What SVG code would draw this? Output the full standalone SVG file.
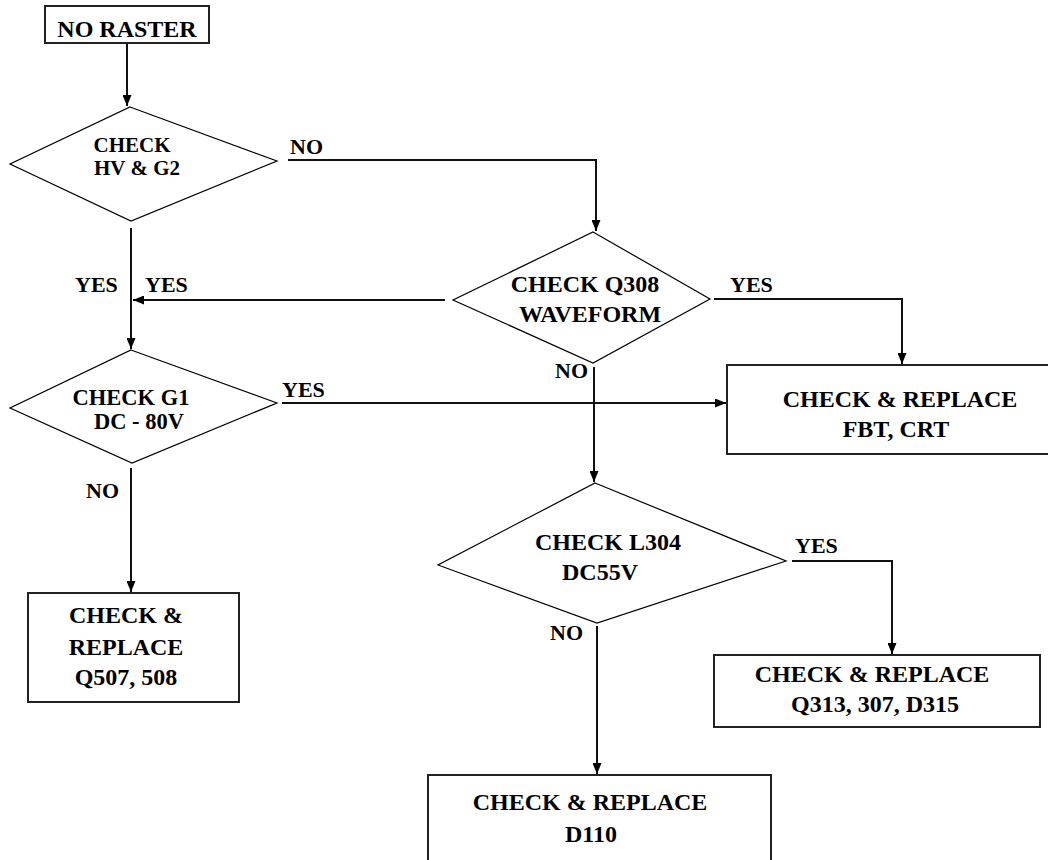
<svg xmlns="http://www.w3.org/2000/svg" width="1048" height="860" viewBox="0 0 1048 860">
<style>
  .bg{fill:#ffffff}
  .box{fill:#ffffff;stroke:#222;stroke-width:2}
  .dia{fill:#ffffff;stroke:#000;stroke-width:1.2}
  .con{fill:none;stroke:#111;stroke-width:2}
  .t24{font-size:24px;text-anchor:middle}
  .t21{font-size:21px;text-anchor:middle}
  .t22{font-size:22.5px;text-anchor:middle}
  .lbl{font-size:22px}
</style>
<defs>
  <marker id="arr" viewBox="0 0 10 10" refX="10" refY="5" markerWidth="11" markerHeight="9" markerUnits="userSpaceOnUse" orient="auto" preserveAspectRatio="none">
    <path d="M0,0 L10,5 L0,10 Z" fill="#000"/>
  </marker>
</defs>
<rect class="bg" x="0" y="0" width="1048" height="860"/>

<g id="connectors">
  <path class="con" d="M127,43 L127,106" marker-end="url(#arr)"/>
  <path class="con" d="M288,160 L596,160 L596,231" marker-end="url(#arr)"/>
  <path class="con" d="M445,300 L133,300" marker-end="url(#arr)"/>
  <path class="con" d="M131,228 L131,349" marker-end="url(#arr)"/>
  <path class="con" d="M282,403 L726,403" marker-end="url(#arr)"/>
  <path class="con" d="M714,299 L902,299 L902,364" marker-end="url(#arr)"/>
  <path class="con" d="M594,367 L594,482" marker-end="url(#arr)"/>
  <path class="con" d="M131,468 L131,592" marker-end="url(#arr)"/>
  <path class="con" d="M792,561 L892,561 L892,654" marker-end="url(#arr)"/>
  <path class="con" d="M597,626 L597,774" marker-end="url(#arr)"/>
</g>

<g style="font-family:'Times New Roman','Liberation Serif',serif;font-weight:bold" fill="#000">
<g id="labels">
  <text class="lbl" x="290" y="154">NO</text>
  <text class="lbl" x="75" y="292">YES</text>
  <text class="lbl" x="145" y="292">YES</text>
  <text class="lbl" x="730" y="292">YES</text>
  <text class="lbl" x="282" y="397">YES</text>
  <text class="lbl" x="555" y="378">NO</text>
  <text class="lbl" x="86" y="498">NO</text>
  <text class="lbl" x="795" y="553">YES</text>
  <text class="lbl" x="550" y="640">NO</text>
</g>

<g id="node-no-raster">
  <rect class="box" x="45" y="6" width="164" height="37"/>
  <text class="t24" x="127" y="37">NO RASTER</text>
</g>

<g id="node-check-hv">
  <polygon class="dia" points="130,107 277,161 131,221 10,164"/>
  <text class="t21" x="132" y="152">CHECK</text>
  <text class="t21" x="137" y="175">HV &amp; G2</text>
</g>

<g id="node-check-q308">
  <polygon class="dia" points="593,232 710,299 593,363 453,300"/>
  <text class="t24" x="585" y="292">CHECK Q308</text>
  <text class="t24" x="590" y="322">WAVEFORM</text>
</g>

<g id="node-check-g1">
  <polygon class="dia" points="131,350 277,403 132,463 10,408"/>
  <text class="t22" x="131" y="405">CHECK G1</text>
  <text class="t22" x="139" y="429">DC - 80V</text>
</g>

<g id="node-fbt-crt">
  <rect class="box" x="727" y="365" width="340" height="89"/>
  <text class="t24" x="900" y="407">CHECK &amp; REPLACE</text>
  <text class="t24" x="896" y="437">FBT, CRT</text>
</g>

<g id="node-check-l304">
  <polygon class="dia" points="595,483 786,561 597,623 438,565"/>
  <text class="t24" x="608" y="550">CHECK L304</text>
  <text class="t24" x="600" y="580">DC55V</text>
</g>

<g id="node-q507">
  <rect class="box" x="28" y="593" width="211" height="109"/>
  <text class="t24" x="126" y="623">CHECK &amp;</text>
  <text class="t24" x="126" y="655">REPLACE</text>
  <text class="t24" x="126" y="685">Q507, 508</text>
</g>

<g id="node-q313">
  <rect class="box" x="714" y="655" width="326" height="72"/>
  <text class="t24" x="872" y="682">CHECK &amp; REPLACE</text>
  <text class="t24" x="875" y="712">Q313, 307, D315</text>
</g>

<g id="node-d110">
  <rect class="box" x="428" y="775" width="343" height="95"/>
  <text class="t24" x="590" y="810">CHECK &amp; REPLACE</text>
  <text class="t24" x="591" y="842">D110</text>
</g>
</g>
</svg>
